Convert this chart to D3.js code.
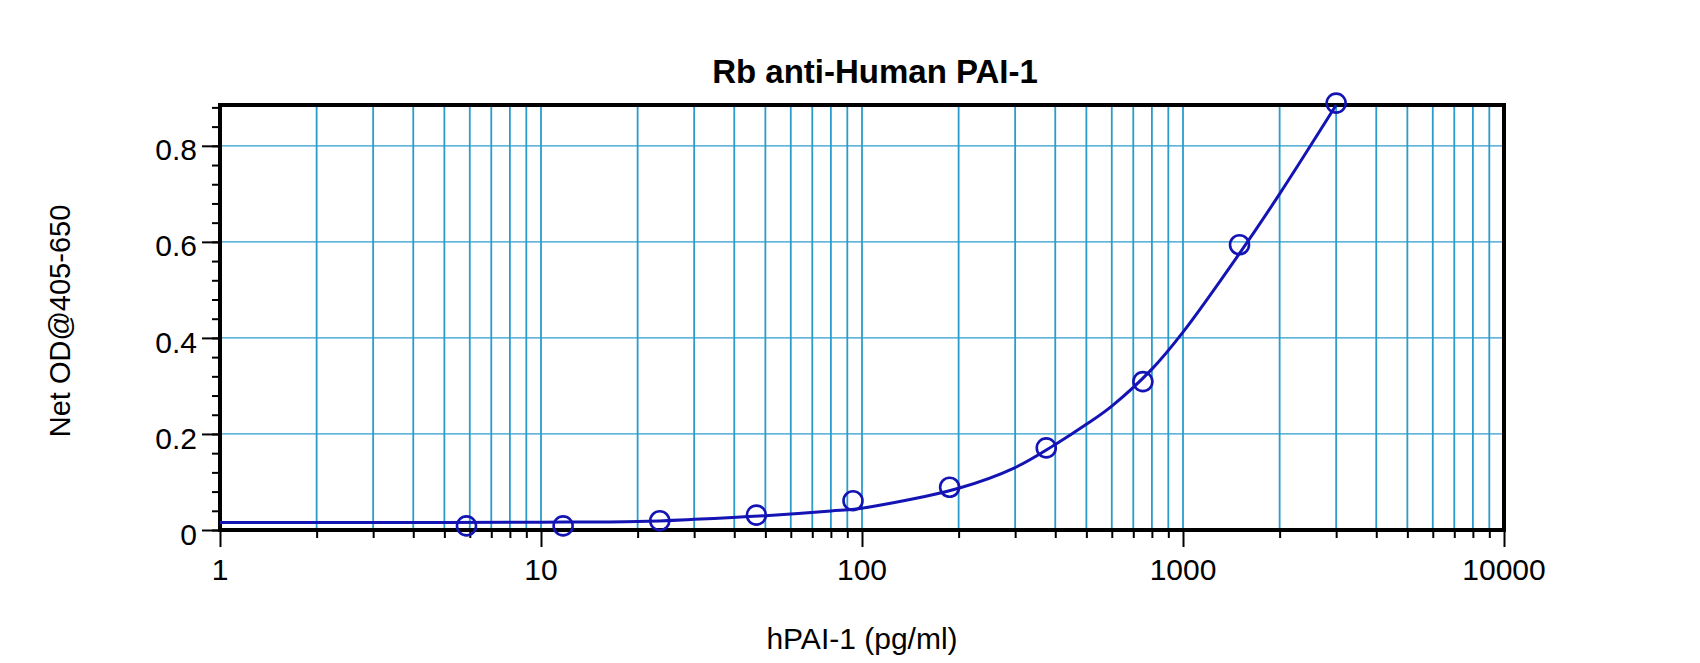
<!DOCTYPE html>
<html>
<head>
<meta charset="utf-8">
<script src="https://cdn.jsdelivr.net/npm/d3@7"></script>
<style>
  body { margin: 0; background: #fff; }
  svg { display: block; font-family: "Liberation Sans", Arial, sans-serif; }
</style>
</head>
<body>
<div id="chart"></div>
<script>
// data
const concentrations = [5.86, 11.72, 23.44, 46.88, 93.75, 187.5, 375, 750, 1500, 3000];
const netOD = [0.0085, 0.0085, 0.0194, 0.031, 0.061, 0.089, 0.171, 0.309, 0.594, 0.889];

// fitted curve
const curveX = [1, 5, 10, 20, 30, 50, 80, 100, 200, 300, 400, 500, 600, 800, 1000, 1500, 2000, 3000];
const curveY = [0.0155, 0.0158, 0.0163, 0.0178, 0.0222, 0.0298, 0.0396, 0.0455, 0.087, 0.130, 0.178, 0.220, 0.258, 0.335, 0.412, 0.576, 0.700, 0.885];

const xTickLabels = [1, 10, 100, 1000, 10000];
const yTickLabels = [0, 0.2, 0.4, 0.6, 0.8];

const width = 1700, height = 663;
const margin = {top: 105, right: 196, bottom: 133, left: 220};
const plotW = width - margin.left - margin.right;
const plotH = height - margin.top - margin.bottom;

const gridColor = "#2b9ccc";
const dataColor = "#1414b4";

const svg = d3.select("#chart").append("svg")
    .attr("width", width)
    .attr("height", height);

const g = svg.append("g")
    .attr("transform", `translate(${margin.left},${margin.top})`);

// scales
const x = d3.scaleLog().domain([1, 10000]).range([0, plotW]);
const y = d3.scaleLinear().domain([0, 0.885]).range([plotH, 0]);

// log grid values: 1..9 in every decade
const gridVals = [];
for (let dec = 1; dec < 10000; dec *= 10) {
    for (let k = 1; k < 10; k++) gridVals.push(dec * k);
}
gridVals.push(10000);
const minorY = d3.range(0, 0.885, 0.04);

// vertical grid lines
g.append("g").selectAll("line")
    .data(gridVals.filter(v => v > 1 && v < 10000))
    .enter().append("line")
    .attr("x1", d => x(d)).attr("x2", d => x(d))
    .attr("y1", 0).attr("y2", plotH)
    .attr("stroke", gridColor)
    .attr("stroke-width", 1.8);

// horizontal grid lines
g.append("g").selectAll("line")
    .data(yTickLabels.filter(v => v > 0))
    .enter().append("line")
    .attr("x1", 0).attr("x2", plotW)
    .attr("y1", d => y(d)).attr("y2", d => y(d))
    .attr("stroke", gridColor)
    .attr("stroke-width", 1.3);

// x axis: minor ticks everywhere, long ticks on decades
const xAxis = d3.axisBottom(x)
    .tickValues(gridVals)
    .tickSize(8)
    .tickFormat("");
g.append("g")
    .attr("transform", `translate(0,${plotH})`)
    .call(xAxis)
    .call(a => a.select(".domain").remove())
    .call(a => a.selectAll(".tick line")
        .attr("stroke-width", 2)
        .attr("y2", d => xTickLabels.includes(d) ? 17 : 8));

g.append("g").selectAll("text")
    .data(xTickLabels)
    .enter().append("text")
    .attr("x", d => x(d))
    .attr("y", plotH + 50)
    .attr("text-anchor", "middle")
    .attr("font-size", "30px")
    .attr("fill", "#000")
    .text(d => d);

// y axis: minor ticks every 0.04, long ticks on labels
g.append("g")
    .call(d3.axisLeft(y).tickValues(minorY).tickSize(8).tickFormat(""))
    .call(a => a.select(".domain").remove())
    .call(a => a.selectAll(".tick line").attr("stroke-width", 2));

g.append("g")
    .call(d3.axisLeft(y).tickValues(yTickLabels).tickSize(18).tickPadding(5)
        .tickFormat(d => d === 0 ? "0" : d3.format(".1f")(d)))
    .call(a => a.select(".domain").remove())
    .call(a => a.selectAll(".tick line").attr("stroke-width", 2))
    .call(a => a.selectAll(".tick text")
        .attr("font-size", "30px")
        .attr("font-family", "Liberation Sans, Arial, sans-serif")
        .attr("fill", "#000")
        .attr("dy", "0.47em"));

// frame
g.append("rect")
    .attr("width", plotW)
    .attr("height", plotH)
    .attr("fill", "none")
    .attr("stroke", "#000")
    .attr("stroke-width", 4);

// fitted curve
const curvePts = curveX.map((v, i) => [v, curveY[i]]);
g.append("path")
    .datum(curvePts)
    .attr("fill", "none")
    .attr("stroke", dataColor)
    .attr("stroke-width", 3)
    .attr("d", d3.line()
        .x(d => x(d[0]))
        .y(d => y(d[1]))
        .curve(d3.curveCatmullRom.alpha(0.5)));

// standards
g.append("g").selectAll("circle")
    .data(concentrations.map((v, i) => [v, netOD[i]]))
    .enter().append("circle")
    .attr("cx", d => x(d[0]))
    .attr("cy", d => y(d[1]))
    .attr("r", 9.5)
    .attr("fill", "none")
    .attr("stroke", dataColor)
    .attr("stroke-width", 2.6);

// title
svg.append("text")
    .attr("x", 875)
    .attr("y", 83)
    .attr("text-anchor", "middle")
    .attr("font-size", "33px")
    .attr("font-weight", "bold")
    .text("Rb anti-Human PAI-1");

// axis titles
svg.append("text")
    .attr("x", margin.left + plotW / 2)
    .attr("y", 649)
    .attr("text-anchor", "middle")
    .attr("font-size", "30px")
    .text("hPAI-1 (pg/ml)");

svg.append("text")
    .attr("transform", "translate(70,321) rotate(-90)")
    .attr("text-anchor", "middle")
    .attr("font-size", "29px")
    .text("Net OD@405-650");
</script>
</body>
</html>
